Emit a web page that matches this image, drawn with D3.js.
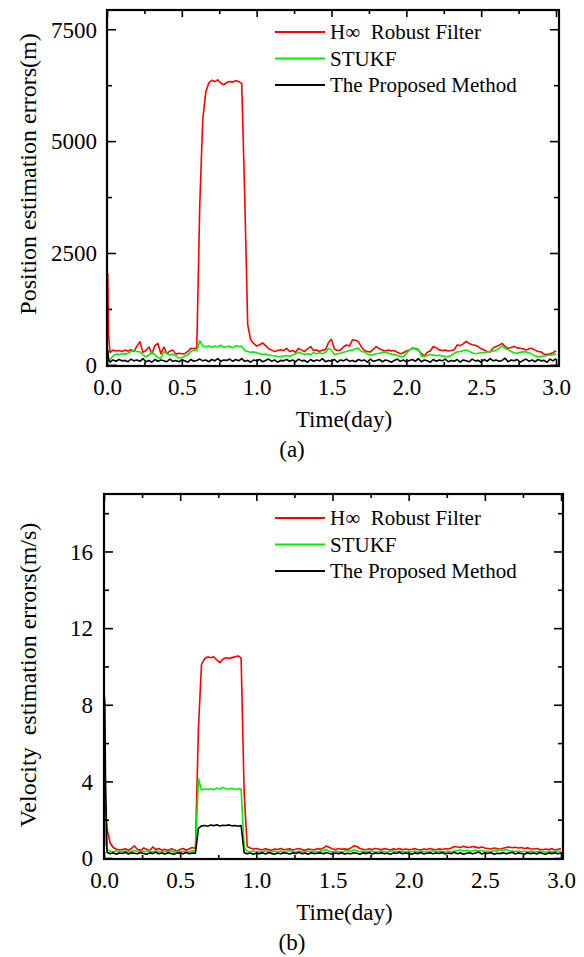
<!DOCTYPE html>
<html>
<head>
<meta charset="utf-8">
<script src="https://cdn.jsdelivr.net/npm/d3@7"></script>
<style>
  body { margin: 0; background: #fff; }
  svg text { font-family: 'Liberation Serif', 'Times New Roman', serif; fill: #000; }
</style>
</head>
<body>
<script>
// sampling times (day), shared by both panels
var times = [0, 0.005, 0.01,
  0.02, 0.04, 0.06, 0.08, 0.10, 0.12, 0.14, 0.16, 0.18, 0.20,
  0.22, 0.24, 0.26, 0.28, 0.30, 0.32, 0.34, 0.36, 0.38, 0.40,
  0.42, 0.44, 0.46, 0.48, 0.50, 0.52, 0.54, 0.56, 0.58, 0.60,
  0.62, 0.64, 0.66, 0.68, 0.70, 0.72, 0.74, 0.76, 0.78, 0.80,
  0.82, 0.84, 0.86, 0.88, 0.90, 0.92, 0.94, 0.96, 0.98, 1.00,
  1.02, 1.04, 1.06, 1.08, 1.10, 1.12, 1.14, 1.16, 1.18, 1.20,
  1.22, 1.24, 1.26, 1.28, 1.30, 1.32, 1.34, 1.36, 1.38, 1.40,
  1.42, 1.44, 1.46, 1.48, 1.50, 1.52, 1.54, 1.56, 1.58, 1.60,
  1.62, 1.64, 1.66, 1.68, 1.70, 1.72, 1.74, 1.76, 1.78, 1.80,
  1.82, 1.84, 1.86, 1.88, 1.90, 1.92, 1.94, 1.96, 1.98, 2.00,
  2.02, 2.04, 2.06, 2.08, 2.10, 2.12, 2.14, 2.16, 2.18, 2.20,
  2.22, 2.24, 2.26, 2.28, 2.30, 2.32, 2.34, 2.36, 2.38, 2.40,
  2.42, 2.44, 2.46, 2.48, 2.50, 2.52, 2.54, 2.56, 2.58, 2.60,
  2.62, 2.64, 2.66, 2.68, 2.70, 2.72, 2.74, 2.76, 2.78, 2.80,
  2.82, 2.84, 2.86, 2.88, 2.90, 2.92, 2.94, 2.96, 2.98, 3.00];

var seriesNames = ["H\u221E  Robust Filter", "STUKF", "The Proposed Method"];
var seriesColors = ["#ff0000", "#00ee00", "#000000"];

// (a) position errors (m)
var posRed = [150, 2030, 700,
  280, 330, 310, 320, 300, 330, 310, 340, 300, 420,
  520, 280, 320, 400, 250, 430, 480, 250, 400, 250,
  310, 330, 240, 260, 250, 250, 300, 370, 360, 380,
  3600, 5500, 6100, 6300, 6360, 6330, 6370, 6300, 6260, 6310,
  6330, 6320, 6350, 6330, 6290, 3800, 900, 560, 480, 420,
  450, 490, 430, 360, 330, 300, 320, 340, 320, 370,
  300, 320, 280, 370, 330, 300, 360, 410, 320, 335,
  300, 330, 340, 500, 570, 350, 320, 330, 400, 445,
  420, 560, 550, 520, 400, 320, 300, 290, 350, 410,
  360, 330, 310, 330, 310, 320, 280, 250, 270, 310,
  330, 370, 360, 330, 250, 200, 280, 310, 410, 380,
  335, 320, 330, 310, 320, 340, 445, 430, 470, 525,
  480, 450, 440, 410, 360, 335, 300, 290, 380, 410,
  440, 480, 410, 370, 390, 410, 380, 370, 360, 335,
  360, 370, 330, 300, 290, 240, 230, 250, 270, 320];
var posGreen = [100, 300, 150,
  110, 200, 240, 230, 250, 240, 260, 300, 330, 300,
  290, 230, 180, 220, 290, 230, 160, 150, 290, 260,
  220, 240, 200, 150, 160, 200, 220, 300, 330, 320,
  540, 420, 400, 430, 390, 420, 400, 440, 390, 410,
  420, 380, 430, 410, 420, 320, 300, 280, 290, 270,
  250, 230, 240, 220, 210, 200, 190, 185, 200, 210,
  195, 220, 250, 280, 260, 230, 250, 230, 270, 250,
  270, 250, 280, 370, 330, 230, 250, 260, 280, 300,
  320, 330, 360, 370, 300, 290, 250, 220, 230, 250,
  260, 280, 290, 260, 240, 230, 210, 190, 185, 250,
  330, 380, 370, 350, 200, 190, 210, 230, 220, 210,
  215, 200, 190, 185, 210, 260, 290, 300, 320, 330,
  300, 270, 250, 260, 270, 280, 290, 300, 310, 330,
  370, 420, 370, 340, 300, 270, 260, 280, 290, 290,
  270, 240, 200, 185, 190, 200, 210, 220, 230, 240];
var posBlack = [100, 330, 120,
  60, 110, 80, 120, 90, 100, 70, 130, 90, 110,
  80, 140, 70, 100, 60, 120, 80, 110, 90, 70,
  130, 80, 100, 70, 110, 90, 60, 120, 80, 100,
  130, 90, 110, 70, 120, 90, 140, 80, 110, 100,
  130, 80, 120, 90, 140, 80, 100, 60, 110, 90,
  120, 70, 100, 130, 80, 110, 60, 100, 90, 120,
  80, 110, 70, 130, 90, 100, 60, 120, 80, 110,
  90, 140, 70, 100, 80, 120, 60, 110, 90, 130,
  80, 100, 70, 120, 90, 110, 60, 130, 80, 100,
  120, 70, 110, 90, 60, 100, 130, 80, 110, 70,
  100, 120, 80, 140, 70, 110, 90, 60, 120, 80,
  110, 90, 130, 70, 100, 80, 120, 60, 110, 90,
  70, 130, 90, 100, 60, 120, 80, 140, 90, 110,
  80, 100, 150, 70, 110, 90, 120, 60, 100, 130,
  80, 110, 70, 120, 90, 100, 60, 130, 90, 140];

// (b) velocity errors (m/s)
var velRed = [8.8, 5.5, 2.6,
  1.5, 0.8, 0.55, 0.47, 0.42, 0.45, 0.48, 0.41, 0.50, 0.63,
  0.45, 0.40, 0.52, 0.46, 0.38, 0.58, 0.44, 0.50, 0.41, 0.46,
  0.39, 0.48, 0.43, 0.37, 0.45, 0.50, 0.41, 0.48, 0.55, 0.50,
  6.8, 10.1, 10.4, 10.5, 10.45, 10.5, 10.35, 10.2, 10.38, 10.45,
  10.42, 10.46, 10.5, 10.55, 10.45, 3.4, 0.6, 0.52, 0.47, 0.50,
  0.46, 0.43, 0.49, 0.44, 0.41, 0.47, 0.45, 0.50, 0.43, 0.46,
  0.48, 0.42, 0.46, 0.50, 0.44, 0.41, 0.47, 0.45, 0.43, 0.49,
  0.46, 0.52, 0.63, 0.55, 0.47, 0.44, 0.50, 0.46, 0.48, 0.45,
  0.52, 0.64, 0.60, 0.50, 0.46, 0.43, 0.48, 0.45, 0.50, 0.47,
  0.44, 0.49, 0.46, 0.42, 0.48, 0.45, 0.50, 0.43, 0.47, 0.44,
  0.46, 0.49, 0.45, 0.42, 0.47, 0.44, 0.50, 0.46, 0.43, 0.48,
  0.45, 0.49, 0.47, 0.52, 0.60, 0.58, 0.55, 0.62, 0.57, 0.55,
  0.60, 0.57, 0.53, 0.58, 0.52, 0.50, 0.47, 0.52, 0.49, 0.46,
  0.51, 0.55, 0.58, 0.54, 0.56, 0.52, 0.55, 0.50, 0.53, 0.48,
  0.47, 0.50, 0.46, 0.43, 0.47, 0.44, 0.48, 0.42, 0.46, 0.50];
var velGreen = [4.0, 2.0, 0.9,
  0.45, 0.36, 0.33, 0.38, 0.32, 0.35, 0.37, 0.31, 0.36, 0.40,
  0.34, 0.30, 0.37, 0.33, 0.36, 0.31, 0.38, 0.34, 0.30, 0.35,
  0.33, 0.37, 0.31, 0.35, 0.32, 0.36, 0.30, 0.34, 0.38, 0.35,
  4.15, 3.55, 3.60, 3.58, 3.62, 3.57, 3.65, 3.60, 3.68, 3.62,
  3.60, 3.64, 3.58, 3.62, 3.60, 0.55, 0.36, 0.33, 0.37, 0.32,
  0.35, 0.31, 0.38, 0.34, 0.30, 0.36, 0.33, 0.37, 0.32, 0.35,
  0.38, 0.33, 0.30, 0.36, 0.34, 0.31, 0.37, 0.33, 0.35, 0.32,
  0.36, 0.40, 0.44, 0.35, 0.32, 0.37, 0.34, 0.31, 0.36, 0.38,
  0.35, 0.42, 0.38, 0.33, 0.36, 0.31, 0.35, 0.37, 0.32, 0.34,
  0.37, 0.33, 0.30, 0.35, 0.38, 0.32, 0.36, 0.34, 0.31, 0.35,
  0.33, 0.37, 0.31, 0.36, 0.34, 0.30, 0.35, 0.38, 0.32, 0.36,
  0.34, 0.31, 0.37, 0.33, 0.36, 0.39, 0.42, 0.37, 0.40, 0.36,
  0.38, 0.41, 0.36, 0.39, 0.34, 0.37, 0.33, 0.40, 0.36, 0.44,
  0.40, 0.45, 0.38, 0.36, 0.34, 0.37, 0.33, 0.35, 0.31, 0.36,
  0.34, 0.32, 0.37, 0.33, 0.30, 0.35, 0.32, 0.36, 0.34, 0.38];
var velBlack = [8.6, 8.2, 4.0,
  0.30, 0.22, 0.28, 0.20, 0.26, 0.24, 0.30, 0.21, 0.27, 0.25,
  0.22, 0.29, 0.24, 0.20, 0.27, 0.23, 0.30, 0.22, 0.26, 0.21,
  0.28, 0.24, 0.20, 0.27, 0.25, 0.22, 0.29, 0.23, 0.26, 0.25,
  1.55, 1.68, 1.70, 1.66, 1.72, 1.69, 1.74, 1.67, 1.71, 1.70,
  1.73, 1.68, 1.70, 1.66, 1.70, 0.28, 0.22, 0.26, 0.20, 0.25,
  0.23, 0.27, 0.21, 0.29, 0.24, 0.20, 0.26, 0.22, 0.28, 0.25,
  0.21, 0.27, 0.24, 0.30, 0.22, 0.26, 0.20, 0.28, 0.23, 0.25,
  0.27, 0.22, 0.29, 0.24, 0.20, 0.26, 0.23, 0.28, 0.21, 0.25,
  0.22, 0.28, 0.25, 0.20, 0.27, 0.23, 0.29, 0.21, 0.26, 0.24,
  0.28, 0.22, 0.25, 0.20, 0.27, 0.24, 0.30, 0.22, 0.26, 0.23,
  0.20, 0.27, 0.23, 0.29, 0.21, 0.25, 0.28, 0.22, 0.26, 0.24,
  0.29, 0.21, 0.26, 0.23, 0.30, 0.22, 0.27, 0.20, 0.25, 0.28,
  0.22, 0.26, 0.31, 0.21, 0.27, 0.24, 0.29, 0.20, 0.25, 0.23,
  0.28, 0.22, 0.26, 0.30, 0.21, 0.27, 0.24, 0.20, 0.28, 0.23,
  0.26, 0.21, 0.29, 0.24, 0.20, 0.27, 0.23, 0.28, 0.22, 0.26];

var xTicks = [0, 0.5, 1.0, 1.5, 2.0, 2.5, 3.0];
var xMinor = [0.25, 0.75, 1.25, 1.75, 2.25, 2.75];
var posTicks = [0, 2500, 5000, 7500];
var posMinor = [1250, 3750, 6250];
var velTicks = [0, 4, 8, 12, 16];
var velMinor = [2, 6, 10, 14, 18];

var serif = "'Liberation Serif', 'Times New Roman', serif";

var svg = d3.select("body").append("svg")
  .attr("width", 584).attr("height", 957);
svg.append("rect").attr("width", 584).attr("height", 957).attr("fill", "#fff");

function drawPanel(p) {
  var x = d3.scaleLinear().domain(p.xDomain).range([p.left, p.right]);
  var y = d3.scaleLinear().domain(p.yDomain).range([p.bottom, p.top]);
  var g = svg.append("g");

  var clipId = "clip" + p.id;
  svg.append("clipPath").attr("id", clipId).append("rect")
    .attr("x", p.left).attr("y", p.top)
    .attr("width", p.right - p.left).attr("height", p.bottom - p.top);

  var line = d3.line()
    .x(function(d, i){ return x(times[i]); })
    .y(function(d){ return y(d); });

  var plot = g.append("g").attr("clip-path", "url(#" + clipId + ")");
  p.series.forEach(function(s, i){
    plot.append("path").datum(s)
      .attr("d", line)
      .attr("fill", "none")
      .attr("stroke", seriesColors[i])
      .attr("stroke-width", 1.6)
      .attr("stroke-linejoin", "round");
  });

  // axes, ticks pointing inwards on all four sides
  var bottomAxis = d3.axisBottom(x).tickValues(xTicks).tickSize(-7).tickPadding(13)
    .tickFormat(d3.format(".1f"));
  g.append("g").attr("transform", "translate(0," + p.bottom + ")").call(bottomAxis);
  g.append("g").attr("transform", "translate(0," + p.bottom + ")")
    .call(d3.axisBottom(x).tickValues(xMinor).tickSize(-4).tickFormat(""));
  g.append("g").attr("transform", "translate(0," + p.top + ")")
    .call(d3.axisTop(x).tickValues(xTicks).tickSize(-7).tickFormat(""));
  g.append("g").attr("transform", "translate(0," + p.top + ")")
    .call(d3.axisTop(x).tickValues(xMinor).tickSize(-4).tickFormat(""));

  var leftAxis = d3.axisLeft(y).tickValues(p.yTicks).tickSize(-9).tickPadding(p.yPad)
    .tickFormat(d3.format("d"));
  var gl = g.append("g").attr("transform", "translate(" + p.left + ",0)").call(leftAxis);
  g.append("g").attr("transform", "translate(" + p.left + ",0)")
    .call(d3.axisLeft(y).tickValues(p.yMinor).tickSize(-5).tickFormat(""));
  g.append("g").attr("transform", "translate(" + p.right + ",0)")
    .call(d3.axisRight(y).tickValues(p.yTicks).tickSize(-9).tickFormat(""));
  g.append("g").attr("transform", "translate(" + p.right + ",0)")
    .call(d3.axisRight(y).tickValues(p.yMinor).tickSize(-5).tickFormat(""));

  g.selectAll(".domain").remove();
  g.selectAll("g").attr("font-family", serif).attr("font-size", 23);
  g.selectAll(".tick line").attr("stroke", "#000").attr("stroke-width", 1.6);
  g.selectAll(".tick text").attr("font-family", serif).style("font-family", serif)
    .style("font-size", "23px");
  gl.selectAll(".tick text").attr("dy", "0.34em");

  g.append("rect")
    .attr("x", p.left).attr("y", p.top)
    .attr("width", p.right - p.left).attr("height", p.bottom - p.top)
    .attr("fill", "none").attr("stroke", "#000").attr("stroke-width", 2.2);

  g.append("text")
    .attr("x", (p.left + p.right) / 2 + 11).attr("y", p.bottom + 61)
    .attr("text-anchor", "middle").style("font-size", "23px")
    .text("Time(day)");
  g.append("text")
    .attr("transform", "translate(" + 36 + "," + p.yLabelY + ") rotate(-90)")
    .attr("text-anchor", "middle").style("font-size", "24px")
    .style("white-space", "pre").attr("xml:space", "preserve")
    .text(p.yLabel);
  g.append("text")
    .attr("x", 292).attr("y", p.bottom + 91)
    .attr("text-anchor", "middle").style("font-size", "23px")
    .text(p.caption);

  // legend
  var leg = g.append("g");
  seriesNames.forEach(function(n, i){
    var ly = p.legendTop + i * 26.5;
    leg.append("line").attr("x1", 275).attr("x2", 325).attr("y1", ly).attr("y2", ly)
      .attr("stroke", seriesColors[i]).attr("stroke-width", 2);
    leg.append("text").attr("x", 330).attr("y", ly).attr("dy", "0.34em")
      .style("font-size", "21px").style("white-space", "pre").attr("xml:space", "preserve")
      .text(n);
  });
}

drawPanel({
  id: "a", left: 107, right: 559, top: 10, bottom: 366,
  xDomain: [0, 3.02], yDomain: [-25, 7930],
  yTicks: posTicks, yMinor: posMinor, yPad: 10,
  series: [posRed, posGreen, posBlack],
  yLabel: "Position estimation errors(m)", yLabelY: 174,
  caption: "(a)", legendTop: 32
});

drawPanel({
  id: "b", left: 104, right: 563, top: 494, bottom: 859,
  xDomain: [0, 3.013], yDomain: [-0.05, 19.0],
  yTicks: velTicks, yMinor: velMinor, yPad: 11,
  series: [velRed, velGreen, velBlack],
  yLabel: "Velocity  estimation errors(m/s)", yLabelY: 675,
  caption: "(b)", legendTop: 518
});
</script>
</body>
</html>
